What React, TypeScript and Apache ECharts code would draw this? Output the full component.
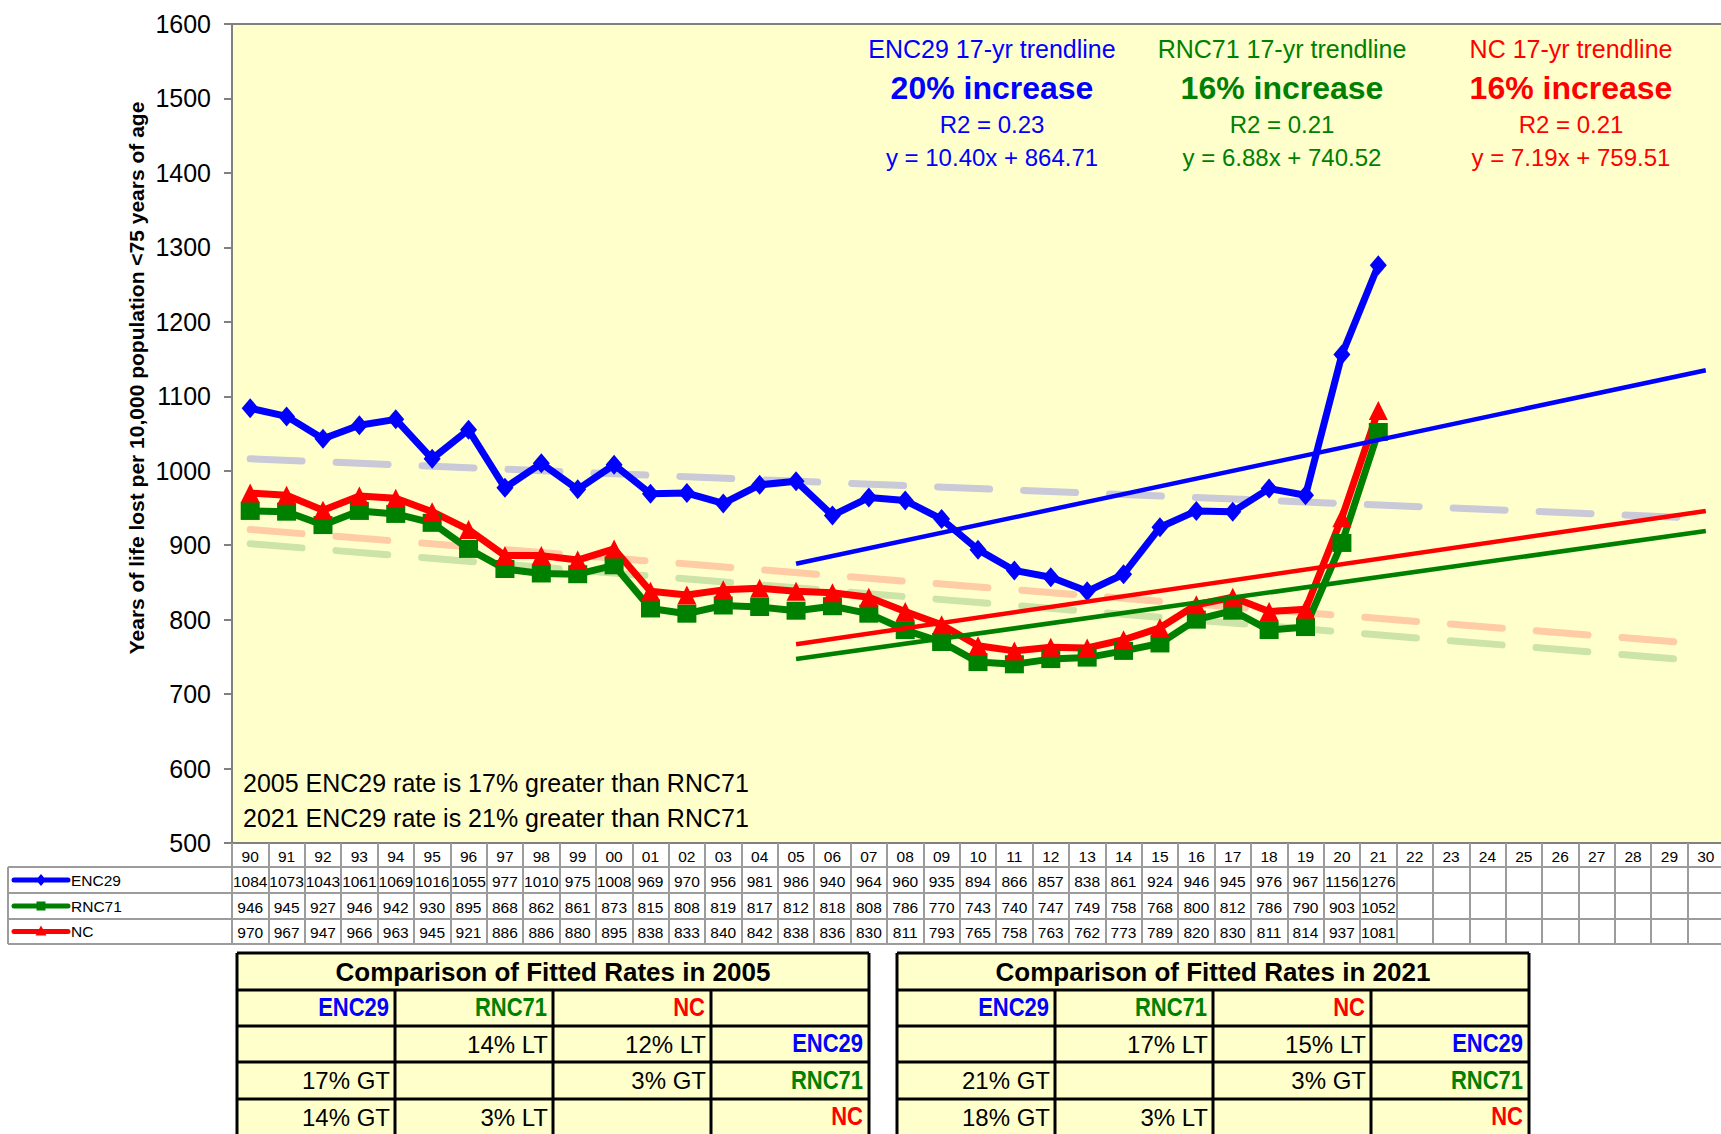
import React, { useEffect, useRef } from 'react';
import * as echarts from 'echarts';

const FONT = "'Liberation Sans', Arial, Helvetica, sans-serif";
const BLUE = '#0000FF';
const GREEN = '#008000';
const RED = '#FF0000';

const years = ['90','91','92','93','94','95','96','97','98','99','00','01','02','03','04','05','06','07','08','09','10','11','12','13','14','15','16','17','18','19','20','21','22','23','24','25','26','27','28','29','30'];

const enc29 = [1084,1073,1043,1061,1069,1016,1055,977,1010,975,1008,969,970,956,981,986,940,964,960,935,894,866,857,838,861,924,946,945,976,967,1156,1276];
const rnc71 = [946,945,927,946,942,930,895,868,862,861,873,815,808,819,817,812,818,808,786,770,743,740,747,749,758,768,800,812,786,790,903,1052];
const nc = [970,967,947,966,963,945,921,886,886,880,895,838,833,840,842,838,836,830,811,793,765,758,763,762,773,789,820,830,811,814,937,1081];

// 17-yr trendlines (2005 fit, extended to 2030): endpoint values
const trendYears = ['05', '30'];
const enc29Trend = [875, 1135];
const rnc71Trend = [747, 919];
const ncTrend = [767, 946];

// long-period dashed trendlines: endpoint values
const longYears = ['90', '30'];
const enc29Long = [1016, 936];
const rnc71Long = [902, 744];
const ncLong = [921, 767];

const seriesNames = ['ENC29', 'RNC71', 'NC'];
const seriesColors = [BLUE, GREEN, RED];

const noteTitles = ['ENC29 17-yr trendline', 'RNC71 17-yr trendline', 'NC 17-yr trendline'];
const notePcts = ['20% increase', '16% increase', '16% increase'];
const noteR2 = ['R2 = 0.23', 'R2 = 0.21', 'R2 = 0.21'];
const noteEqs = ['y = 10.40x + 864.71', 'y = 6.88x + 740.52', 'y = 7.19x + 759.51'];

const bottomNotes = ['2005 ENC29 rate is 17% greater than RNC71', '2021 ENC29 rate is 21% greater than RNC71'];

const yTitle = 'Years of life lost per 10,000 population <75 years of age';

const cmpYears = ['2005', '2021'];
const cmp2005 = [
  ['', '14% LT', '12% LT'],
  ['17% GT', '', '3% GT'],
  ['14% GT', '3% LT', ''],
];
const cmp2021 = [
  ['', '17% LT', '15% LT'],
  ['21% GT', '', '3% GT'],
  ['18% GT', '3% LT', ''],
];

function txt(x: number, y: number, text: string, o: any = {}) {
  return {
    type: 'text',
    x,
    y,
    rotation: o.rotation || 0,
    scaleX: o.scaleX || 1,
    z: 50,
    style: {
      text,
      fill: o.fill || '#000',
      fontSize: o.fontSize || 25,
      fontWeight: o.fontWeight || 'normal',
      fontFamily: FONT,
      align: o.align || 'left',
      textAlign: o.align || 'left',
      verticalAlign: 'middle',
      textVerticalAlign: 'middle',
    },
  };
}

function ln(x1: number, y1: number, x2: number, y2: number, stroke: string, w: number) {
  return { type: 'line', z: 40, shape: { x1, y1, x2, y2 }, style: { stroke, lineWidth: w } };
}

function cmpTable(x0: number, year: string, cells: string[][]) {
  const W = 158;
  const cols = [0, 1, 2, 3, 4].map((k) => x0 + k * W);
  const rows = [953, 990, 1026, 1062, 1099, 1140];
  const out: any[] = [];
  out.push({ type: 'rect', z: 30, shape: { x: x0, y: rows[0], width: 4 * W, height: 200 }, style: { fill: '#FFFFCC' } });
  out.push(ln(x0, rows[0], x0 + 4 * W, rows[0], '#000', 3));
  out.push(ln(x0, rows[0], x0, 1140, '#000', 3));
  out.push(ln(x0 + 4 * W, rows[0], x0 + 4 * W, 1140, '#000', 3));
  for (let r = 1; r < 5; r++) out.push(ln(x0, rows[r], x0 + 4 * W, rows[r], '#000', 3));
  for (let k = 1; k < 4; k++) out.push(ln(cols[k], rows[1], cols[k], 1140, '#000', 3));
  out.push(txt(x0 + 2 * W, (rows[0] + rows[1]) / 2, 'Comparison of Fitted Rates in ' + year, { fontSize: 26, fontWeight: 'bold', align: 'center' }));
  const yc = [1008, 1044, 1080.5, 1117];
  for (let k = 0; k < 3; k++) {
    out.push(txt(cols[k + 1] - 6, yc[0], seriesNames[k], { fontSize: 25, fontWeight: 'bold', align: 'right', fill: seriesColors[k], scaleX: 0.88 }));
  }
  for (let r = 0; r < 3; r++) {
    for (let k = 0; k < 3; k++) {
      if (cells[r][k]) out.push(txt(cols[k + 1] - 5, yc[r + 1], cells[r][k], { fontSize: 24, align: 'right' }));
    }
    out.push(txt(cols[4] - 6, yc[r + 1], seriesNames[r], { fontSize: 25, fontWeight: 'bold', align: 'right', fill: seriesColors[r], scaleX: 0.88 }));
  }
  return out;
}

function buildGraphics() {
  const g: any[] = [];
  g.push(txt(136, 378, yTitle, { fontSize: 21, fontWeight: 'bold', align: 'center', rotation: Math.PI / 2 }));
  const cx = [992, 1282, 1571];
  for (let i = 0; i < 3; i++) {
    g.push(txt(cx[i], 49, noteTitles[i], { fontSize: 25, align: 'center', fill: seriesColors[i] }));
    g.push(txt(cx[i], 88, notePcts[i], { fontSize: 32, fontWeight: 'bold', align: 'center', fill: seriesColors[i] }));
    g.push(txt(cx[i], 124, noteR2[i], { fontSize: 24, align: 'center', fill: seriesColors[i] }));
    g.push(txt(cx[i], 157, noteEqs[i], { fontSize: 24, align: 'center', fill: seriesColors[i] }));
  }
  g.push(txt(243, 783, bottomNotes[0], { fontSize: 25 }));
  g.push(txt(243, 818, bottomNotes[1], { fontSize: 25 }));

  const TL = '#9c9c9c';
  [867, 893, 919, 944].forEach((y) => g.push(ln(8, y, 1721, y, TL, 2)));
  g.push(ln(8, 867, 8, 944, TL, 2));

  const ry = [880, 906, 931.5];
  for (let i = 0; i < 3; i++) {
    g.push({ type: 'line', z: 40, shape: { x1: 14, y1: ry[i], x2: 68, y2: ry[i] }, style: { stroke: seriesColors[i], lineWidth: 5, lineCap: 'round' } });
    g.push(txt(71, ry[i], seriesNames[i], { fontSize: 15.5 }));
  }
  g.push({ type: 'polygon', z: 41, shape: { points: [[41, ry[0] - 6], [46, ry[0]], [41, ry[0] + 6], [36, ry[0]]] }, style: { fill: BLUE } });
  g.push({ type: 'rect', z: 41, shape: { x: 36.5, y: ry[1] - 4.5, width: 9, height: 9 }, style: { fill: GREEN } });
  g.push({ type: 'polygon', z: 41, shape: { points: [[41, ry[2] - 6], [46.5, ry[2] + 4], [35.5, ry[2] + 4]] }, style: { fill: RED } });

  g.push(...cmpTable(237, cmpYears[0], cmp2005));
  g.push(...cmpTable(897, cmpYears[1], cmp2021));
  return g;
}

function pairs(xs: string[], vs: number[]) {
  return xs.map((x, i) => [x, vs[i]]);
}

function rowAxis(offset: number, values: number[]) {
  return {
    type: 'category',
    data: years,
    position: 'bottom',
    offset,
    boundaryGap: true,
    axisLine: { show: false },
    axisTick: { show: false },
    splitLine: { show: false },
    axisLabel: {
      interval: 0,
      margin: 5,
      fontSize: 15.5,
      color: '#000',
      fontFamily: FONT,
      formatter: (_v: string, i: number) => (values[i] !== undefined ? String(values[i]) : ''),
    },
  };
}

export default function App() {
  const ref = useRef<HTMLDivElement>(null);
  useEffect(() => {
    const chart = echarts.init(ref.current!, null, { renderer: 'svg' });
    const dashed = (name: string, vs: number[], color: string) => ({
      name,
      type: 'line',
      data: pairs(longYears, vs),
      symbol: 'none',
      silent: true,
      z: 2,
      lineStyle: { color, width: 7, type: [52, 34], cap: 'round' },
    });
    const trend = (name: string, vs: number[], color: string) => ({
      name,
      type: 'line',
      data: pairs(trendYears, vs),
      symbol: 'none',
      z: 4,
      lineStyle: { color, width: 4.5 },
    });
    const main = (name: string, vs: number[], color: string, symbol: string, size: any) => ({
      name,
      type: 'line',
      data: vs,
      symbol,
      symbolSize: size,
      showSymbol: true,
      showAllSymbol: true,
      z: 3,
      lineStyle: { color, width: 7 },
      itemStyle: { color, borderWidth: 0 },
    });
    chart.setOption({
      animation: false,
      textStyle: { fontFamily: FONT },
      backgroundColor: '#ffffff',
      grid: {
        left: 232,
        top: 24,
        width: 1492,
        height: 819,
        show: true,
        backgroundColor: '#FFFFCC',
        borderColor: '#808080',
        borderWidth: 2,
        containLabel: false,
        outerBoundsMode: 'none',
      },
      xAxis: [
        {
          type: 'category',
          data: years,
          position: 'bottom',
          boundaryGap: true,
          axisLine: { show: true, lineStyle: { color: '#808080', width: 2 } },
          axisTick: { show: true, interval: 0, length: 101, lineStyle: { color: '#9c9c9c', width: 2 } },
          splitLine: { show: false },
          axisLabel: { interval: 0, margin: 5, fontSize: 15.5, color: '#000', fontFamily: FONT },
        },
        rowAxis(25, enc29),
        rowAxis(51, rnc71),
        rowAxis(76, nc),
      ],
      yAxis: {
        type: 'value',
        min: 500,
        max: 1600,
        interval: 100,
        axisLine: { show: true, lineStyle: { color: '#808080', width: 2 } },
        axisTick: { show: true, length: 8, lineStyle: { color: '#808080', width: 2 } },
        axisLabel: { fontSize: 25, color: '#000', margin: 21, fontFamily: FONT, formatter: (v: number) => String(v) },
        splitLine: { show: false },
      },
      series: [
        dashed('ENC29 long trend', enc29Long, '#C9C9D8'),
        dashed('NC long trend', ncLong, '#FFCCA6'),
        dashed('RNC71 long trend', rnc71Long, '#CDE4A8'),
        main('ENC29', enc29, BLUE, 'diamond', [17, 20]),
        main('RNC71', rnc71, GREEN, 'rect', [19, 18]),
        main('NC', nc, RED, 'triangle', [19, 19]),
        trend('ENC29 17-yr trendline', enc29Trend, BLUE),
        trend('RNC71 17-yr trendline', rnc71Trend, GREEN),
        trend('NC 17-yr trendline', ncTrend, RED),
      ],
      graphic: buildGraphics(),
    });
    return () => chart.dispose();
  }, []);
  return (
    <div
      ref={ref}
      style={{ position: 'fixed', left: 0, top: 0, width: 1721, height: 1134, background: '#fff' }}
    />
  );
}
